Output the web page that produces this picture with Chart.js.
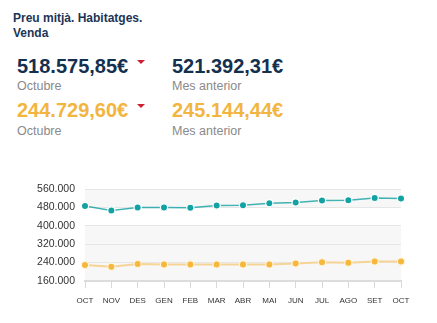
<!DOCTYPE html>
<html>
<head>
<meta charset="utf-8">
<script src="https://cdn.jsdelivr.net/npm/chart.js@4"></script>
<style>
  body { margin: 0; width: 437px; height: 323px; background: #fff; font-family: "Liberation Sans", Arial, sans-serif; position: relative; overflow: hidden; }
  .abs { position: absolute; white-space: nowrap; }
  .title { left: 13px; top: 11px; font-size: 12px; line-height: 14.5px; font-weight: bold; color: #1b3556; white-space: normal; width: 150px; }
  .num { font-size: 20px; line-height: 20px; font-weight: bold; }
  .navy { color: #14304f; }
  .gold { color: #f2b540; }
  .lbl { font-size: 12.5px; line-height: 13px; color: #8a8a8a; }
  .tri { width: 0; height: 0; border-left: 4.5px solid transparent; border-right: 4.5px solid transparent; border-top: 4.5px solid #cc1f2f; }
  #wrap { position: absolute; left: 0; top: 171px; width: 437px; height: 145px; }
</style>
</head>
<body>
<div class="abs title">Preu mitjà. Habitatges. Venda</div>

<div class="abs num navy" style="left:17px;top:56px">518.575,85€</div>
<div class="abs tri" style="left:137px;top:60px"></div>
<div class="abs lbl" style="left:17px;top:80px">Octubre</div>
<div class="abs num navy" style="left:172px;top:56px">521.392,31€</div>
<div class="abs lbl" style="left:172px;top:80px">Mes anterior</div>

<div class="abs num gold" style="left:17px;top:100px">244.729,60€</div>
<div class="abs tri" style="left:137px;top:104px"></div>
<div class="abs lbl" style="left:17px;top:125px">Octubre</div>
<div class="abs num gold" style="left:172px;top:100px">245.144,44€</div>
<div class="abs lbl" style="left:172px;top:125px">Mes anterior</div>

<div id="wrap"><canvas id="myChart"></canvas></div>

<script>
const months = ['OCT', 'NOV', 'DES', 'GEN', 'FEB', 'MAR', 'ABR', 'MAI', 'JUN', 'JUL', 'AGO', 'SET', 'OCT'];
const preuTotal = [486000, 467000, 480000, 480000, 478000, 488000, 489000, 498000, 501000, 510000, 511000, 521392.31, 518575.85];
const preuM2 = [230000, 222000, 234000, 232000, 232000, 232000, 232000, 232000, 236000, 241000, 239000, 245144.44, 244729.60];
const yTicks = [160000, 240000, 320000, 400000, 480000, 560000];
const grayBands = [[480000, 560000], [160000, 400000]];

// fons a bandes
const bands = {
    id: 'bands',
    beforeDraw(chart) {
        let ctx = chart.ctx;
        let y = chart.scales.y;
        let area = chart.chartArea;
        ctx.save();
        ctx.fillStyle = '#f7f7f7';
        grayBands.forEach(b => {
            let top = y.getPixelForValue(b[1]);
            let bot = y.getPixelForValue(b[0]);
            ctx.fillRect(area.left, top, area.right - area.left, bot - top);
        });
        ctx.restore();
    }
};

const data = {
    labels: months,
    datasets: [{
        data: preuTotal,
        borderColor: 'rgba(19,161,163,0.8)',
        borderWidth: 1.5,
        pointRadius: 3.6,
        pointBackgroundColor: '#13a2a4',
        pointBorderColor: '#ffffff',
        pointBorderWidth: 1.2,
        tension: 0
    }, {
        data: preuM2,
        borderColor: '#f6d495',
        borderWidth: 2,
        pointRadius: 3.6,
        pointBackgroundColor: '#f5b83d',
        pointBorderColor: '#fff4dc',
        pointBorderWidth: 1.2,
        tension: 0
    }]
};

const config = {
    type: 'line',
    data: data,
    plugins: [bands],
    options: {
        responsive: true,
        maintainAspectRatio: false,
        animation: false,
        layout: { padding: { left: 0, right: 36, top: 18, bottom: 0 } },
        plugins: { legend: { display: false }, tooltip: { enabled: false } },
        scales: {
            x: {
                offset: false,
                afterFit(scale) { scale.height = 35; },
                grid: { drawOnChartArea: false, drawTicks: true, tickLength: 7, tickColor: '#d9d9d9', tickWidth: 1 },
                border: { color: '#dcdcdc', width: 2 },
                ticks: { color: '#333', font: { size: 8, family: '"Liberation Sans", Arial, sans-serif' }, padding: 8, maxRotation: 0, autoSkip: false }
            },
            y: {
                min: 160000,
                max: 560000,
                afterFit(scale) { scale.width = 85; },
                afterBuildTicks(scale) { scale.ticks = yTicks.map(v => ({ value: v })); },
                grid: { color: '#e6e6e6', drawTicks: false },
                border: { display: false },
                ticks: {
                    color: '#333',
                    padding: 10,
                    font: { size: 10.5, family: '"Liberation Sans", Arial, sans-serif' },
                    callback: v => (v / 1000) + '.000'
                }
            }
        }
    }
};

const myChart = new Chart(document.getElementById('myChart'), config);
</script>
</body>
</html>
